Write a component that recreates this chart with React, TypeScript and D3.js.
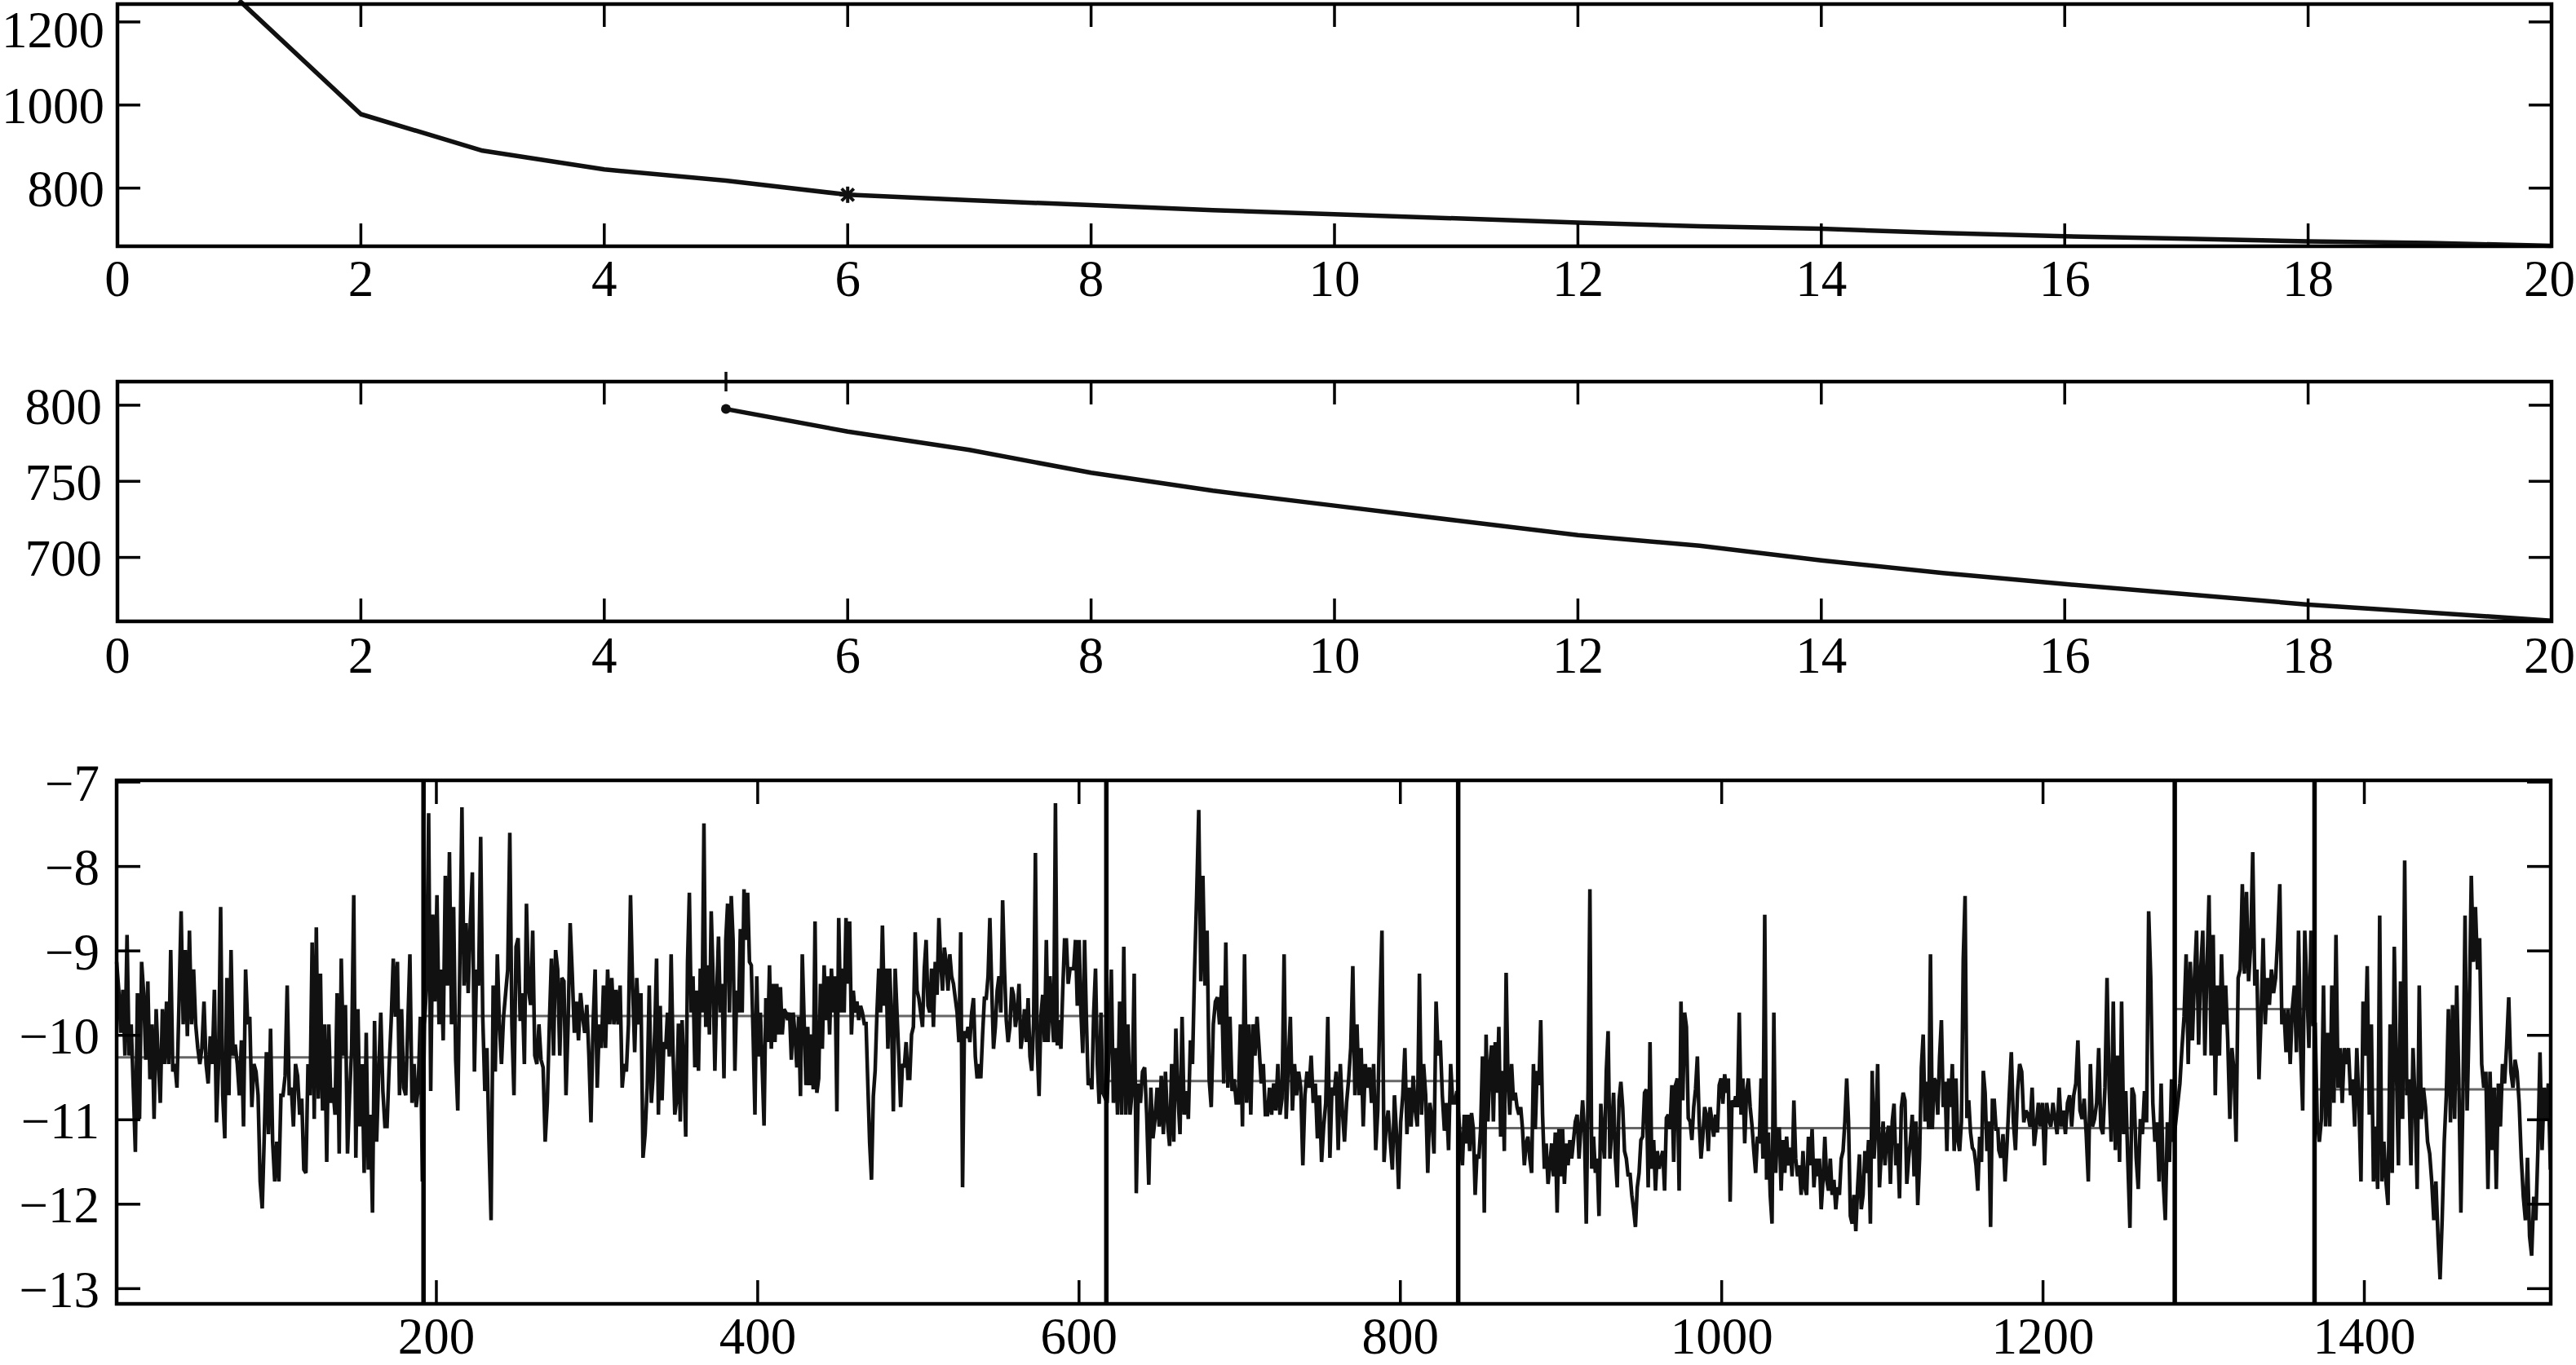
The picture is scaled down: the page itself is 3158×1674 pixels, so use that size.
import React from 'react';
import * as d3 from 'd3';

const W = 3158;
const H = 1674;
const FONT = "'Liberation Serif','Times New Roman',serif";
const FS = 63;

// ---------- Panel 1 data ----------
const p1X = [1, 2, 3, 4, 5, 6, 7, 8, 9, 10, 11, 12, 13, 14, 15, 16, 17, 18, 19, 20];
const p1Y = [1252, 978, 890, 845, 818, 784, 771, 759, 747, 737, 727, 717, 708, 702, 692, 684, 678, 672, 668, 661];
const p1Star = { x: 6, y: 784 };
const p1XTicks = [0, 2, 4, 6, 8, 10, 12, 14, 16, 18, 20];
const p1YTicks = [800, 1000, 1200];
const p1XDomain = [0, 20];
const p1YDomain = [660, 1243];

// ---------- Panel 2 data ----------
const p2X = [5, 6, 7, 8, 9, 10, 11, 12, 13, 14, 15, 16, 17, 18, 19, 20];
const p2Y = [797.5, 782.7, 770.6, 755.6, 743.8, 734, 724.3, 714.6, 707.7, 698, 689.7, 682.5, 675.8, 669, 663.8, 658.4];
const p2Plus = { x: 5, y: 815.5 };
const p2XTicks = [0, 2, 4, 6, 8, 10, 12, 14, 16, 18, 20];
const p2YTicks = [700, 750, 800];
const p2XDomain = [0, 20];
const p2YDomain = [658, 815.5];

// ---------- Panel 3 data ----------
const seg1Vals = [
  -9.13, -9.46, -9.97, -9.46, -10.24, -8.81, -10.24, -9.87, -10.62, -11.38,
  -9.50, -10.99, -9.13, -9.50, -10.29, -9.36, -10.52, -9.87, -10.99, -9.69,
  -10.29, -10.80, -9.69, -10.34, -9.60, -10.34, -8.99, -10.43, -10.34, -10.62,
  -9.60, -8.53, -9.87, -8.99, -10.01, -8.76, -9.87, -9.22, -9.87, -10.15,
  -10.34, -10.15, -9.60, -10.34, -10.57, -10.01, -10.34, -9.46, -11.03, -10.34,
  -8.48, -10.71, -11.22, -9.32, -10.71, -8.99, -10.24, -10.11, -10.34, -10.71,
  -10.06, -11.08, -9.22, -9.87, -9.78, -10.85, -10.34, -10.43, -10.71, -11.73,
  -12.05, -11.17, -10.20, -11.17, -9.92, -11.26, -11.73, -11.26, -11.73, -10.71,
  -10.71, -10.48, -9.41, -10.71, -10.62, -11.08, -10.34, -10.48, -10.94, -10.75,
  -11.59, -11.63, -10.34, -10.71, -8.90, -10.99, -8.72, -10.75, -9.27, -10.89,
  -9.87, -11.50, -9.87, -10.80, -10.62, -10.94, -9.50, -11.40, -9.09, -10.24,
  -9.64, -11.40, -10.71, -10.15, -8.34, -11.45, -9.69, -11.08, -10.34, -11.63,
  -9.97, -11.59, -10.94, -12.10, -9.83, -11.26, -10.43, -9.73, -10.66, -11.08,
  -11.08, -10.38, -9.83, -9.09, -9.78, -9.13, -10.71, -9.69, -10.62, -10.71,
  -9.87, -9.04, -10.80, -10.34, -10.85, -10.62, -9.78, -11.73,
];
const seg2aVals = [
  -9.87, -9.41, -7.37, -10.66, -8.57, -9.60, -8.34, -9.87, -9.22, -10.06,
  -8.11, -9.41, -7.83, -9.87, -8.48, -10.29, -10.89, -9.13, -7.30, -9.41,
  -8.67, -9.50, -8.67, -8.07, -10.43, -9.22, -9.41, -7.65, -9.78, -10.66,
  -10.15, -11.26, -12.19, -9.41, -10.43, -9.04, -9.87, -10.34, -9.78, -9.50,
  -9.22, -7.60, -9.87, -10.71, -8.95, -8.85, -9.83, -9.50, -10.34, -8.44,
  -9.46, -9.64, -8.76, -10.24, -10.34, -9.87, -10.29, -10.38, -11.26, -10.80,
  -9.87, -9.09, -10.24, -8.99, -9.22, -10.24, -9.32, -9.36, -10.71, -9.87,
  -8.67, -9.27, -9.97, -9.60, -10.06, -9.50, -9.78, -9.97, -9.64, -10.24,
  -11.03, -9.87, -9.22, -10.62, -9.87, -10.15, -9.41, -10.15, -9.22, -9.87,
  -9.32, -9.87, -9.46, -9.87, -9.41, -10.62, -10.34, -10.43, -9.87, -8.34,
  -9.41, -10.20, -9.32, -9.87, -9.50, -11.45, -11.17, -10.62, -9.41, -10.80,
];
const seg2bVals = [
  -10.51, -9.95, -9.09, -10.94, -9.65, -10.77, -10.08, -10.16, -9.73, -10.25,
  -9.04, -10.16, -10.94, -10.77, -9.86, -11.02, -9.82, -10.42, -11.20, -9.13,
  -8.31, -9.73, -9.30, -10.38, -9.47, -10.42, -9.21, -9.73, -7.49, -9.90,
  -9.17, -9.99, -8.53, -9.30, -10.42, -9.52, -8.83, -9.73, -9.39, -10.51,
  -8.87, -8.44, -9.73, -8.35, -8.87, -10.42, -9.47, -9.73, -8.74, -9.73,
  -8.27, -8.87, -8.31, -9.13, -9.17, -9.99, -10.94, -9.30, -10.25, -9.73,
  -10.38, -11.07, -9.56, -10.08, -9.17, -10.16, -9.39, -10.08, -9.39, -9.99,
  -9.43, -9.99, -9.69, -9.73, -9.82, -9.73, -10.29, -9.73, -9.99, -10.38,
  -9.78, -10.72, -9.04, -9.82, -10.59, -9.90, -10.59, -9.99, -10.64, -8.65,
  -10.68, -10.51, -9.39, -10.16, -9.17, -9.82, -9.30, -9.99, -9.21, -9.73,
  -9.30, -10.90, -8.61, -9.73, -9.21, -9.73, -8.61, -9.39, -8.65, -9.99,
  -9.47, -9.73, -9.60, -9.82, -9.65, -9.73, -9.86, -9.86, -10.59, -11.28,
  -11.71, -10.72, -10.42, -9.73, -9.21, -9.73, -8.70, -9.65, -9.21, -10.16,
  -9.21, -9.82, -10.90, -9.21, -9.73, -10.25, -10.85, -10.34, -10.38, -10.08,
  -10.51, -10.51, -9.99, -9.90, -8.78, -9.47, -9.56, -9.73, -9.90, -9.21,
  -8.87, -9.65, -9.73, -9.21, -9.90, -9.13, -9.52, -8.61, -9.13, -9.47,
  -8.96, -9.13, -9.47, -9.04, -9.30, -9.39, -9.56, -9.73, -10.08, -8.78,
  -11.80, -9.95, -10.03, -9.90, -10.08, -9.73, -9.56, -10.25, -10.51, -10.34,
  -10.51, -9.99, -9.56, -9.56, -9.30, -8.61, -9.43, -10.16, -9.90, -9.47,
  -9.30, -9.73, -8.40, -9.21, -9.82, -10.08, -9.90, -9.43, -9.52, -9.90,
  -9.73, -9.39, -10.16, -9.99, -9.69, -10.08, -9.56, -10.25, -10.42, -9.86,
  -7.84, -10.16, -10.72, -9.78, -9.52, -10.08, -8.87, -10.08, -9.30, -9.73,
  -10.08, -7.25, -10.12, -9.82, -10.16, -9.47, -8.87, -8.87, -9.39, -9.21,
  -9.21, -9.21, -8.87, -9.65, -8.87, -9.73, -10.21, -8.87, -9.82, -10.59,
  -10.51, -10.64, -9.73, -9.21, -10.34, -10.81, -9.73, -10.68,
];
const seg3Vals = [
  -10.80, -10.11, -9.22, -10.80, -10.15, -10.94, -9.60, -10.94, -8.95, -10.94,
  -9.87, -10.94, -10.66, -9.27, -11.87, -10.57, -10.80, -10.43, -10.38, -10.94,
  -11.77, -10.62, -11.22, -10.99, -10.62, -11.08, -10.48, -11.17, -10.43, -11.03,
  -11.31, -10.34, -11.26, -9.92, -10.71, -11.17, -9.78, -10.94, -10.66, -10.99,
  -10.06, -10.34, -9.22, -8.34, -7.33, -9.36, -8.11, -9.41, -8.76, -10.52,
  -10.85, -9.87, -9.60, -9.55, -9.87, -9.41, -10.57, -8.90, -10.62, -9.78,
  -10.66, -10.52, -10.80, -10.80, -9.87, -11.08, -9.04, -10.80, -9.87, -10.94,
  -9.87, -10.24, -9.78, -10.15, -10.57, -10.34, -10.94, -10.94, -10.62, -10.94,
  -10.57, -10.89, -10.34, -10.94, -10.75, -9.04, -10.99, -10.34, -9.78, -10.89,
  -10.34, -10.71, -10.43, -10.62, -11.54, -10.71, -10.43, -10.62, -10.24, -10.80,
  -10.57, -11.22, -10.71, -11.50, -11.08, -10.80, -9.78, -11.45, -10.62, -10.71,
  -10.43, -11.36, -10.34, -10.89, -11.26, -10.80, -10.52, -10.15, -9.18, -10.71,
  -9.87, -10.71, -10.15, -11.08, -10.34, -10.62, -10.38, -10.80, -10.34, -11.36,
  -10.89, -9.69, -8.76, -11.50, -11.08, -10.89, -11.26, -11.59, -10.71, -11.17,
  -11.82, -11.03, -10.71, -10.15, -11.17, -10.62, -11.08, -10.48, -10.89, -11.08,
  -9.27, -10.94, -10.34, -10.71, -11.63, -10.80, -10.99, -11.40, -9.60, -10.24,
  -10.06, -10.71, -11.13, -10.80, -11.36, -10.34, -10.80, -10.80, -10.66,
];
const seg4aVals = [
  -11.28, -11.54, -10.94, -11.28, -10.94, -11.37, -10.92, -11.11, -11.89, -11.41,
  -11.46, -11.11, -10.25, -12.10, -9.99, -11.02, -10.38, -10.12, -11.02, -10.08,
  -10.68, -9.90, -11.20, -10.42, -11.37, -9.26, -10.51, -10.94, -10.34, -10.77,
  -10.68, -10.85, -10.94, -10.85, -11.11, -11.54, -11.28, -11.20, -11.46, -11.63,
  -10.34, -11.11, -10.42, -10.59, -9.82, -10.94, -11.58, -11.28, -11.76, -11.54,
  -11.28, -11.67, -11.15, -12.10, -11.11, -11.67, -11.11, -11.76, -11.28, -11.54,
  -11.24, -11.46, -11.24, -11.02, -10.94, -11.46, -11.11, -10.77, -11.15, -12.23,
  -10.64, -8.27, -11.58, -11.20, -11.63, -11.46, -12.14, -10.81, -11.20, -11.46,
  -10.42, -9.95, -11.46, -11.11, -10.68, -11.46, -11.80, -10.77, -10.55, -10.85,
  -11.37, -11.46, -11.67, -11.63, -11.89, -12.06, -12.27, -11.80, -11.63, -11.24,
  -11.20, -10.68, -10.64, -11.80, -10.08, -11.58, -11.24, -11.84, -11.37, -11.58,
  -11.46, -11.37, -11.84, -10.98, -10.94, -11.11, -10.59, -11.50, -10.59, -10.51,
  -11.84, -9.60, -10.77, -9.73, -9.90, -10.98, -11.02, -11.24, -10.85, -10.64,
  -10.25, -11.02, -11.46, -11.20, -10.85, -10.94, -11.37, -10.85, -11.02, -11.20,
  -10.94, -11.15, -10.59, -10.51, -10.81, -10.46, -10.68, -10.51, -11.97, -10.77,
  -10.85, -10.72, -10.85, -9.73, -10.94, -10.51, -11.28, -10.68, -10.51, -10.85,
  -11.07, -11.37, -11.63, -11.20, -11.28, -10.51, -11.46, -8.57, -11.71, -11.15,
  -11.89, -12.23, -9.73, -11.63, -11.11, -11.11, -11.84, -11.24, -11.63, -11.20,
  -11.54, -11.33, -11.67, -10.77, -11.46, -11.67, -11.54, -11.89, -11.37, -11.80,
  -11.89, -11.20, -11.54, -11.11, -11.80, -11.46, -11.67, -11.46, -12.06, -11.71,
  -11.20, -11.71, -11.84, -11.46, -11.89, -11.71, -12.06, -11.80, -11.89, -11.46,
  -11.37, -11.02, -10.51, -11.02, -12.14, -12.23, -11.89, -12.32, -11.80, -11.41,
  -12.06, -11.89, -11.37, -11.63, -11.24, -12.23, -10.42, -11.46, -11.07, -10.34,
  -11.80, -11.37, -11.02, -11.54, -11.20, -11.07, -11.76, -11.02, -10.81, -11.54,
  -11.28, -11.93, -10.85, -10.68, -10.77, -11.76, -11.46, -11.24, -10.94, -11.67,
  -11.02, -12.01, -11.46, -10.38, -9.99, -11.02, -10.55, -11.11, -9.04, -11.11,
  -10.51, -10.55, -10.94, -10.25, -9.82, -10.85, -10.55, -11.37, -10.51, -10.85,
  -10.34, -11.37, -10.51, -11.24, -11.37, -11.02, -9.09, -8.35, -10.98, -10.77,
  -11.15, -11.33, -11.37, -11.54, -11.84, -11.20, -11.50, -10.42, -10.68, -11.37,
  -11.02, -12.27, -10.77, -10.77, -11.11, -11.11,
];
const seg4bVals = [
  -11.36, -11.45, -11.17, -11.73, -11.26, -10.71, -10.20, -11.03, -11.36, -10.66,
  -10.34, -10.43, -11.03, -10.89, -10.94, -11.08, -10.62, -11.31, -11.08, -10.80,
  -11.08, -10.80, -11.54, -10.80, -10.99, -11.08, -10.80, -10.99, -11.17, -10.62,
  -11.08, -10.89, -11.17, -10.80, -10.71, -11.08, -10.71, -10.57, -10.06, -10.89,
  -10.99, -10.75, -11.17, -11.73, -10.34, -11.08, -10.99, -10.80, -10.15, -11.08,
  -11.17, -10.62, -9.32, -10.62, -11.26, -9.60, -11.36, -10.24, -11.50, -9.60,
  -11.17, -10.66, -11.50, -12.28, -10.62, -10.71, -11.45, -11.82, -10.99, -11.17,
  -10.66, -11.03, -8.53, -9.32, -10.80, -11.26, -11.03, -11.73, -10.57, -11.73,
  -12.19, -11.03, -11.50, -10.52, -11.26,
];
const seg5Vals = [
  -10.80, -10.57, -10.15, -9.78, -9.04, -10.34, -9.13, -10.06, -9.32, -8.76,
  -10.11, -9.22, -8.76, -10.24, -9.22, -8.34, -10.24, -8.81, -10.71, -9.41,
  -10.24, -9.04, -9.87, -9.41, -10.06, -10.99, -10.15, -10.43, -11.26, -9.32,
  -9.22, -8.21, -9.27, -8.30, -9.36, -8.95, -7.83, -9.41, -9.22, -10.52,
  -9.78, -8.85, -9.87, -9.32, -9.64, -9.22, -9.50, -9.32, -8.85, -8.21,
  -9.87, -9.69, -10.20, -9.69, -10.34, -9.69, -9.41, -10.20, -8.76, -10.15,
  -10.89, -8.76, -9.41, -10.15, -8.76, -9.87,
];
const seg6Vals = [
  -9.87, -11.03, -11.26, -10.99, -9.41, -11.08, -9.97, -11.08, -9.41, -10.80,
  -8.81, -10.62, -10.15, -10.80, -10.15, -10.34, -10.15, -10.71, -10.52, -11.08,
  -10.15, -10.80, -11.73, -9.60, -10.24, -9.18, -10.94, -9.87, -11.73, -11.08,
  -11.82, -8.58, -11.73, -11.26, -11.73, -12.01, -9.87, -11.63, -8.95, -10.34,
  -11.54, -9.36, -10.99, -7.93, -10.71, -10.52, -11.54, -10.15, -10.80, -11.82,
  -9.41, -10.99, -10.62, -10.85, -11.26, -11.40, -11.73, -12.19, -11.73, -12.38,
  -12.89, -12.19, -11.26, -10.71, -9.69, -11.03, -9.64, -10.99, -9.41, -10.52,
  -12.10, -10.71, -8.58, -10.89, -9.78, -8.11, -9.13, -8.48, -9.22, -8.85,
  -10.34, -10.62, -10.43, -11.82, -10.43, -11.36, -10.62, -11.82, -10.57, -11.08,
  -10.34, -10.57, -10.11, -9.55, -10.43, -10.62, -10.29, -10.43, -10.80, -11.45,
  -11.91, -12.19, -11.45, -12.38, -12.61, -11.91, -12.19, -11.36, -10.20, -11.36,
  -10.62, -10.99, -10.57, -11.59,
];
// x-range (sample index) covered by each run of read values
const p3ChunkStarts = [1, 192.6, 334.8, 617.5, 837.5, 1172.5, 1283.9, 1369.4];
const p3ChunkEnds = [191.3, 333.8, 614.8, 835.2, 1171.9, 1281.3, 1368.1, 1515.8];
const p3ChunkValues = [seg1Vals, seg2aVals, seg2bVals, seg3Vals, seg4aVals, seg4bVals, seg5Vals, seg6Vals];

const p3ChangePoints = [192, 617, 836, 1282, 1369];
const p3SegStarts = [1, 192, 617, 836, 1282, 1369];
const p3SegEnds = [192, 617, 836, 1282, 1369, 1516];
const p3SegMeans = [-10.26, -9.77, -10.54, -11.1, -9.69, -10.64];
const p3XTicks = [200, 400, 600, 800, 1000, 1200, 1400];
const p3YTicks = [-13, -12, -11, -10, -9, -8, -7];
const p3XDomain = [1, 1516];
const p3YDomain = [-13.18, -6.98];

// ---------- layout ----------
const BOX1 = { left: 144, right: 3128, top: 5, bottom: 302, xLab: 61, yGap: 16 };
const BOX2 = { left: 144, right: 3128, top: 468, bottom: 762, xLab: 63, yGap: 19 };
const BOX3 = { left: 143, right: 3127, top: 957, bottom: 1599, xLab: 61, yGap: 21 };

const ASC = 0.9 * FS;
const DESC = 0.22 * FS;
const DIGIT_W = 0.5 * FS;

const fmt = (v: number) => String(v).replace('-', '\u2212');

type Box = typeof BOX1;

function Frame({ box, x, y, xTicks, yTicks, tickLen }: any) {
  const b = box as Box;
  return (
    <g>
      {xTicks.map((t: number) => {
        const s = fmt(t);
        const half = (s.length * DIGIT_W) / 2;
        const cx = Math.min(x(t), W - 1 - half);
        const by = Math.min(b.bottom + b.xLab, H - DESC);
        return (
          <g key={'x' + t}>
            <line x1={x(t)} x2={x(t)} y1={b.bottom} y2={b.bottom - tickLen} stroke="#000" strokeWidth={3.5} />
            <line x1={x(t)} x2={x(t)} y1={b.top} y2={b.top + tickLen} stroke="#000" strokeWidth={3.5} />
            <text x={cx} y={by} textAnchor="middle" fontFamily={FONT} fontSize={FS} fill="#000">
              {s}
            </text>
          </g>
        );
      })}
      {yTicks.map((t: number) => {
        const by = Math.max(y(t) + FS * 0.36, ASC + 1);
        return (
          <g key={'y' + t}>
            <line x1={b.left} x2={b.left + tickLen} y1={y(t)} y2={y(t)} stroke="#000" strokeWidth={3.5} />
            <line x1={b.right} x2={b.right - tickLen} y1={y(t)} y2={y(t)} stroke="#000" strokeWidth={3.5} />
            <text x={b.left - b.yGap} y={by} textAnchor="end" fontFamily={FONT} fontSize={FS} fill="#000">
              {fmt(t)}
            </text>
          </g>
        );
      })}
      <rect x={b.left} y={b.top} width={b.right - b.left} height={b.bottom - b.top} fill="none" stroke="#000" strokeWidth={4.5} />
    </g>
  );
}

export default function App() {
  // panel 1
  const x1 = d3.scaleLinear().domain(p1XDomain).range([BOX1.left, BOX1.right]);
  const y1 = d3.scaleLinear().domain(p1YDomain).range([BOX1.bottom, BOX1.top]);
  const line1 = d3.line<number>().x((_, i) => x1(p1X[i])).y((d) => y1(d));

  // panel 2
  const x2 = d3.scaleLinear().domain(p2XDomain).range([BOX2.left, BOX2.right]);
  const y2 = d3.scaleLinear().domain(p2YDomain).range([BOX2.bottom, BOX2.top]);
  const line2 = d3.line<number>().x((_, i) => x2(p2X[i])).y((d) => y2(d));

  // panel 3
  const x3 = d3.scaleLinear().domain(p3XDomain).range([BOX3.left, BOX3.right]);
  const y3 = d3.scaleLinear().domain(p3YDomain).range([BOX3.bottom, BOX3.top]);
  const pts: [number, number][] = [];
  p3ChunkValues.forEach((vals, c) => {
    const s = p3ChunkStarts[c];
    const e = p3ChunkEnds[c];
    vals.forEach((v, i) => pts.push([s + ((e - s) * i) / (vals.length - 1), v]));
  });
  const line3 = d3.line<[number, number]>().x((d) => x3(d[0])).y((d) => y3(d[1]));

  const sx = x1(p1Star.x);
  const sy = y1(p1Star.y);
  const sr = 10;
  const px = x2(p2Plus.x);
  const py = y2(p2Plus.y);
  const pr = 12;

  return (
    <svg width={W} height={H} viewBox={`0 0 ${W} ${H}`} style={{ position: 'absolute', left: 0, top: 0, background: '#fff' }}>
      <rect x={0} y={0} width={W} height={H} fill="#fff" />

      {/* Panel 1 */}
      <path d={line1(p1Y) || ''} fill="none" stroke="#111" strokeWidth={5.5} strokeLinejoin="round" />
      <g stroke="#111" strokeWidth={4}>
        <line x1={sx} x2={sx} y1={sy - sr} y2={sy + sr} />
        <line x1={sx - sr} x2={sx + sr} y1={sy} y2={sy} />
        <line x1={sx - sr * 0.75} x2={sx + sr * 0.75} y1={sy - sr * 0.75} y2={sy + sr * 0.75} />
        <line x1={sx - sr * 0.75} x2={sx + sr * 0.75} y1={sy + sr * 0.75} y2={sy - sr * 0.75} />
      </g>
      <Frame box={BOX1} x={x1} y={y1} xTicks={p1XTicks} yTicks={p1YTicks} tickLen={28} />

      {/* Panel 2 */}
      <path d={line2(p2Y) || ''} fill="none" stroke="#111" strokeWidth={5.5} strokeLinejoin="round" />
      <circle cx={x2(p2X[0])} cy={y2(p2Y[0])} r={6} fill="#111" />
      <g stroke="#111" strokeWidth={3.5}>
        <line x1={px} x2={px} y1={py - pr} y2={py + pr} />
        <line x1={px - pr} x2={px + pr} y1={py} y2={py} />
      </g>
      <Frame box={BOX2} x={x2} y={y2} xTicks={p2XTicks} yTicks={p2YTicks} tickLen={28} />

      {/* Panel 3 */}
      {p3SegMeans.map((m, i) => (
        <line key={'m' + i} x1={x3(p3SegStarts[i])} x2={x3(p3SegEnds[i])} y1={y3(m)} y2={y3(m)} stroke="#666" strokeWidth={3} />
      ))}
      <path d={line3(pts) || ''} fill="none" stroke="#111" strokeWidth={4.5} strokeLinejoin="miter" strokeMiterlimit={2} />
      {p3ChangePoints.map((c) => (
        <line key={'c' + c} x1={x3(c)} x2={x3(c)} y1={BOX3.top} y2={BOX3.bottom} stroke="#000" strokeWidth={5.5} />
      ))}
      <Frame box={BOX3} x={x3} y={y3} xTicks={p3XTicks} yTicks={p3YTicks} tickLen={29} />
    </svg>
  );
}
